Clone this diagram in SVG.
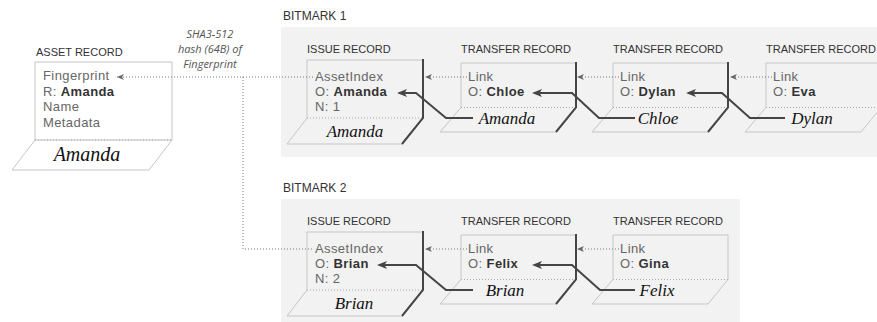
<svg xmlns="http://www.w3.org/2000/svg" width="877" height="322" viewBox="0 0 877 322">
<style>
.bg{fill:#f2f2f2}
.lt{fill:none;stroke:#c6c6c6;stroke-width:1}
.sep{fill:none;stroke:#a8a8a8;stroke-width:1;stroke-dasharray:1 2}
.dk{fill:none;stroke:#454545;stroke-width:2;stroke-linejoin:miter}
.dot{fill:none;stroke:#777;stroke-width:1;stroke-dasharray:1 2}
.ttl{font-family:"Liberation Sans",Arial,sans-serif;font-size:11px;fill:#333}
.t{font-family:"Liberation Sans",Arial,sans-serif;font-size:13px;fill:#666;letter-spacing:0.4px}
.b{font-weight:bold;fill:#333}
.sig{font-family:"Liberation Serif","DejaVu Serif",serif;font-style:italic;font-size:17px;fill:#111;text-anchor:middle}
.note{font-family:"Open Sans","Liberation Sans",sans-serif;font-style:italic;font-size:11px;fill:#555;text-anchor:middle}
</style>
<defs>
<marker id="ad" viewBox="0 0 10 8" refX="8" refY="4" markerWidth="10" markerHeight="8" markerUnits="userSpaceOnUse" orient="auto"><path d="M0,0 L10,4 L0,8 L2.5,4 Z" fill="#454545"/></marker>
<marker id="ag" viewBox="0 0 7 6" refX="7" refY="3" markerWidth="7" markerHeight="6" markerUnits="userSpaceOnUse" orient="auto"><path d="M0,0 L7,3 L0,6 L2,3 Z" fill="#666"/></marker>
</defs>

<g id="bitmark1">
<rect class="bg" x="281" y="27" width="596" height="130"/>
<text class="ttl" x="283" y="20" style="font-size:12px">BITMARK 1</text>
</g>
<g id="bitmark2">
<rect class="bg" x="281" y="199" width="459" height="123"/>
<text class="ttl" x="283" y="192" style="font-size:12px">BITMARK 2</text>
</g>

<g id="asset">
<text class="ttl" x="36" y="56">ASSET RECORD</text>
<rect x="35" y="62" width="137" height="78" fill="#fff" class="lt"/>
<path class="sep" d="M35,140 H172"/>
<path class="lt" d="M35,140 L12,170 H149 L172,140"/>
<text class="t" x="43" y="80">Fingerprint</text>
<text class="t" x="43" y="96">R: <tspan class="b">Amanda</tspan></text>
<text class="t" x="43" y="111">Name</text>
<text class="t" x="43" y="127">Metadata</text>
<text class="sig" x="87" y="161" style="font-size:20px">Amanda</text>
</g>

<g id="hash-note">
<text class="note" x="210" y="38">SHA3-512</text>
<text class="note" x="210" y="53">hash (64B) of</text>
<text class="note" x="210" y="68">Fingerprint</text>
</g>

<g id="b1-issue">
<text class="ttl" x="307" y="53">ISSUE RECORD</text>
<path class="lt" d="M423,60 H307 V118 L287,144 H402"/>
<path class="sep" d="M307,118 H423"/>
<path class="dk" d="M423,59 V118 L402,144"/>
<text class="t" x="315" y="81">AssetIndex</text>
<text class="t" x="315" y="96">O: <tspan class="b">Amanda</tspan></text>
<text class="t" x="315" y="111">N: 1</text>
<text class="sig" x="355" y="137">Amanda</text>
</g>

<g id="b1-t1">
<text class="ttl" x="461" y="53">TRANSFER RECORD</text>
<path class="lt" d="M576,63 H461 V107.5 L440,132 H556"/>
<path class="sep" d="M461,107.5 H576"/>
<path class="dk" d="M576,62 V107.5 L556,132"/>
<text class="t" x="468" y="81">Link</text>
<text class="t" x="468" y="96">O: <tspan class="b">Chloe</tspan></text>
<text class="sig" x="507" y="123.5">Amanda</text>
</g>

<g id="b1-t2">
<text class="ttl" x="613" y="53">TRANSFER RECORD</text>
<path class="lt" d="M728,63 H613 V107.5 L592,132 H708"/>
<path class="sep" d="M613,107.5 H728"/>
<path class="dk" d="M728,62 V107.5 L708,132"/>
<text class="t" x="620" y="81">Link</text>
<text class="t" x="620" y="96">O: <tspan class="b">Dylan</tspan></text>
<text class="sig" x="658" y="123.5">Chloe</text>
</g>

<g id="b1-t3">
<text class="ttl" x="766" y="53">TRANSFER RECORD</text>
<path class="lt" d="M881,63 H766 V107.5 L745,132 H861 L881,107.5 Z"/>
<path class="sep" d="M766,107.5 H881"/>
<text class="t" x="773" y="81">Link</text>
<text class="t" x="773" y="96">O: <tspan class="b">Eva</tspan></text>
<text class="sig" x="812" y="124">Dylan</text>
</g>

<g id="b2-issue">
<text class="ttl" x="307" y="225">ISSUE RECORD</text>
<path class="lt" d="M423,232 H307 V290 L287,316 H402"/>
<path class="sep" d="M307,290 H423"/>
<path class="dk" d="M423,231 V290 L402,316"/>
<text class="t" x="315" y="253">AssetIndex</text>
<text class="t" x="315" y="268">O: <tspan class="b">Brian</tspan></text>
<text class="t" x="315" y="283">N: 2</text>
<text class="sig" x="354" y="309">Brian</text>
</g>

<g id="b2-t1">
<text class="ttl" x="461" y="225">TRANSFER RECORD</text>
<path class="lt" d="M576,235 H461 V279.5 L440,304 H556"/>
<path class="sep" d="M461,279.5 H576"/>
<path class="dk" d="M576,234 V279.5 L556,304"/>
<text class="t" x="468" y="253">Link</text>
<text class="t" x="468" y="268">O: <tspan class="b">Felix</tspan></text>
<text class="sig" x="505" y="295.5">Brian</text>
</g>

<g id="b2-t2">
<text class="ttl" x="613" y="225">TRANSFER RECORD</text>
<path class="lt" d="M728,235 H613 V279.5 L592,304 H708 L728,279.5 Z"/>
<path class="sep" d="M613,279.5 H728"/>
<text class="t" x="620" y="253">Link</text>
<text class="t" x="620" y="268">O: <tspan class="b">Gina</tspan></text>
<text class="sig" x="657" y="296">Felix</text>
</g>

<g id="connectors">
<path class="dot" d="M313,77 H117" marker-end="url(#ag)"/>
<path class="dot" d="M243,77 V249 H313"/>
<path class="dot" d="M467,77 H425" marker-end="url(#ag)"/>
<path class="dot" d="M619,77 H577" marker-end="url(#ag)"/>
<path class="dot" d="M772,77 H730" marker-end="url(#ag)"/>
<path class="dot" d="M467,249 H425" marker-end="url(#ag)"/>
<path class="dot" d="M619,249 H577" marker-end="url(#ag)"/>
<path class="dk" d="M473,118 H446 L416,93 H399" marker-end="url(#ad)"/>
<path class="dk" d="M635,118 H599 L572,93 H534" marker-end="url(#ad)"/>
<path class="dk" d="M785,118 H750 L722,93 H688" marker-end="url(#ad)"/>
<path class="dk" d="M473,290 H446 L416,265 H379" marker-end="url(#ad)"/>
<path class="dk" d="M635,290 H600 L572,265 H534" marker-end="url(#ad)"/>
</g>
</svg>
